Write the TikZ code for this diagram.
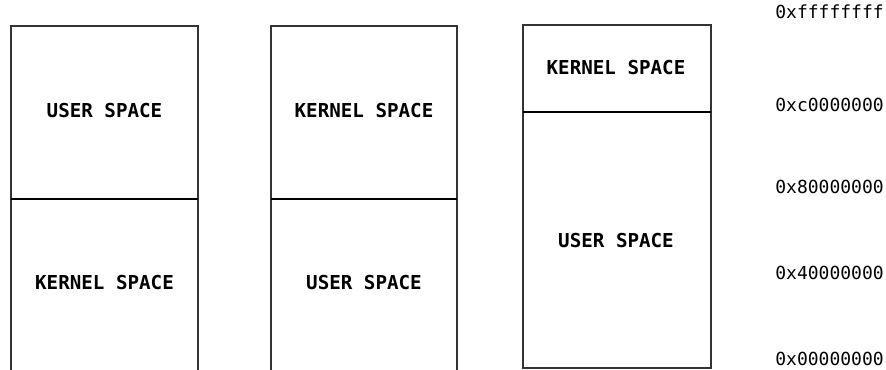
\documentclass[tikz,border=0pt]{standalone}
\usepackage{fontspec}
\newfontfamily\monofont{DejaVu Sans Mono}
\begin{document}
\begin{tikzpicture}[x=0.75pt,y=0.75pt,
  frame/.style={draw=black!80, line width=1pt},
  divider/.style={draw=black, line width=1.4pt},
  region/.style={font=\monofont\bfseries\fontsize{14.4}{17}\selectfont, inner sep=0pt},
  addr/.style={font=\monofont\fontsize{13.5}{16}\selectfont, anchor=east, inner sep=0pt}]
  \useasboundingbox (0,0) rectangle (886,369);
  \begin{scope}
    \clip (0,0) rectangle (886,369);
    % 3G/1G split, user space on top
    \draw[frame] (11,-5) -- (11,343) -- (198,343) -- (198,-5);
    \draw[divider] (11,170) -- (198,170);
    % kernel space on top, user space below
    \draw[frame] (271,-5) -- (271,343) -- (457,343) -- (457,-5);
    \draw[divider] (271,170) -- (457,170);
  \end{scope}
  % 1G kernel / 3G user layout
  \draw[frame] (523,1) rectangle (711,344);
  \draw[divider] (523,257) -- (711,257);

  \node[region] (u1) at (104.5,258) {USER SPACE};
  \node[region] (k1) at (104.5,86) {KERNEL SPACE};
  \node[region] (k2) at (364,258) {KERNEL SPACE};
  \node[region] (u2) at (364,86) {USER SPACE};
  \node[region] (k3) at (616,301) {KERNEL SPACE};
  \node[region] (u3) at (616,128) {USER SPACE};

  \node[addr] (a4) at (884,357) {0xffffffff};
  \node[addr] (a3) at (884,264) {0xc0000000};
  \node[addr] (a2) at (884,182) {0x80000000};
  \node[addr] (a1) at (884,96) {0x40000000};
  \node[addr] (a0) at (884,10) {0x00000000};
\end{tikzpicture}
\end{document}
